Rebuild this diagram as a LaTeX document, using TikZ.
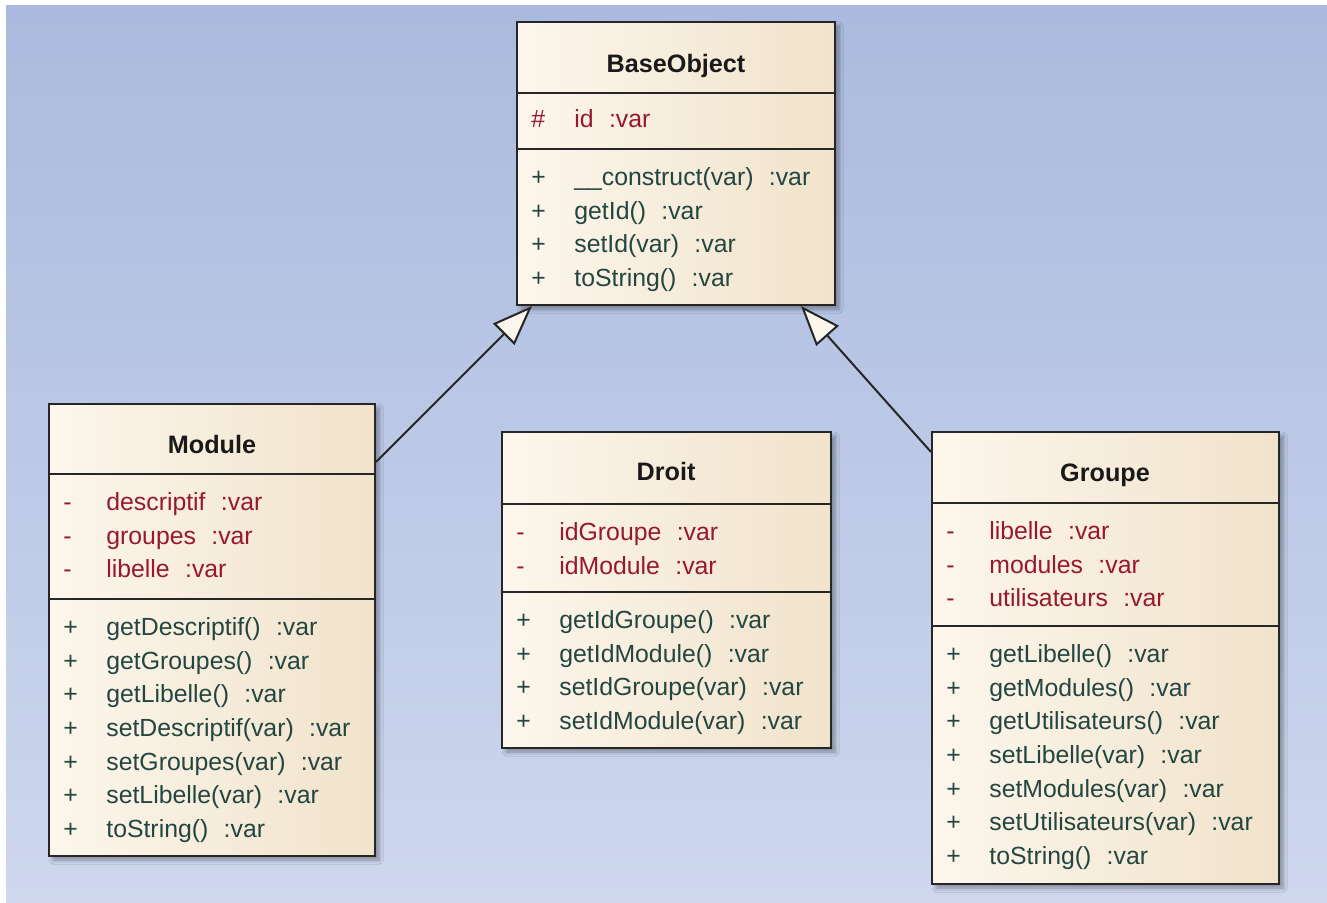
\documentclass[tikz,border=0pt]{standalone}
\usepackage{fontspec}
\setmainfont{Liberation Sans}
\usetikzlibrary{arrows.meta,fit,calc,shadows.blur}
\definecolor{bgtop}{RGB}{170,186,222}
\definecolor{bgbot}{RGB}{206,215,238}
\definecolor{boxlight}{RGB}{252,246,236}
\definecolor{boxdark}{RGB}{241,227,203}
\definecolor{attrred}{RGB}{150,25,45}
\definecolor{opgreen}{RGB}{35,70,65}
\newcommand{\vartype}{\hspace{.62em}:var}
\newcommand{\vis}[1]{\makebox[21.5pt][l]{#1}}
\tikzset{
  classbox/.style={draw=black!85,line width=1pt,inner sep=0pt,left color=boxlight,right color=boxdark,
    blur shadow={shadow xshift=2pt,shadow yshift=-2pt,shadow blur steps=6,shadow blur radius=2pt,shadow opacity=35}},
  sepline/.style={draw=black!85,line width=1pt},
  title/.style={anchor=base,font=\fontsize{12.6pt}{16pt}\selectfont\bfseries,text=black!90},
  attr/.style={anchor=base west,inner sep=0pt,font=\fontsize{12.4pt}{16pt}\selectfont,text=attrred},
  oper/.style={anchor=base west,inner sep=0pt,font=\fontsize{12.4pt}{16pt}\selectfont,text=opgreen},
  inherit/.style={draw=black!85,line width=1pt,-{Triangle[length=20pt,width=15pt,fill=boxlight]}}
}
\begin{document}
\begin{tikzpicture}[x=0.5pt,y=-0.5pt]
\useasboundingbox (0,0) rectangle (1327,903);
%% background
\fill[white] (0,0) rectangle (1327,903);
\shade[top color=bgtop,bottom color=bgbot] (6,6) rectangle (1327,903);
%% BaseObject
\node[classbox,fit={(517,22) (835,305)}] (base) {};
\draw[sepline] (base.west |- 0,93) -- (base.east |- 0,93);
\draw[sepline] (base.west |- 0,149) -- (base.east |- 0,149);
\node[title] (base-name) at (676,73) {BaseObject};
\node[attr] (base-a1) at (531,128) {\vis{\#}id\vartype};
\node[oper] (base-m1) at (531,186) {\vis{+}\_\_construct(var)\vartype};
\node[oper] (base-m2) at (531,220) {\vis{+}getId()\vartype};
\node[oper] (base-m3) at (531,253) {\vis{+}setId(var)\vartype};
\node[oper] (base-m4) at (531,287) {\vis{+}toString()\vartype};
%% Module
\node[classbox,fit={(49,404) (375,856)}] (module) {};
\draw[sepline] (module.west |- 0,474) -- (module.east |- 0,474);
\draw[sepline] (module.west |- 0,599) -- (module.east |- 0,599);
\node[title] (module-name) at (212,453) {Module};
\node[attr] (module-a1) at (63,510) {\vis{-}descriptif\vartype};
\node[attr] (module-a2) at (63,544) {\vis{-}groupes\vartype};
\node[attr] (module-a3) at (63,577) {\vis{-}libelle\vartype};
\node[oper] (module-m1) at (63,635) {\vis{+}getDescriptif()\vartype};
\node[oper] (module-m2) at (63,669) {\vis{+}getGroupes()\vartype};
\node[oper] (module-m3) at (63,702) {\vis{+}getLibelle()\vartype};
\node[oper] (module-m4) at (63,736) {\vis{+}setDescriptif(var)\vartype};
\node[oper] (module-m5) at (63,770) {\vis{+}setGroupes(var)\vartype};
\node[oper] (module-m6) at (63,803) {\vis{+}setLibelle(var)\vartype};
\node[oper] (module-m7) at (63,837) {\vis{+}toString()\vartype};
%% Droit
\node[classbox,fit={(502,432) (831,748)}] (droit) {};
\draw[sepline] (droit.west |- 0,504) -- (droit.east |- 0,504);
\draw[sepline] (droit.west |- 0,592) -- (droit.east |- 0,592);
\node[title] (droit-name) at (666,480) {Droit};
\node[attr] (droit-a1) at (516,540) {\vis{-}idGroupe\vartype};
\node[attr] (droit-a2) at (516,574) {\vis{-}idModule\vartype};
\node[oper] (droit-m1) at (516,628) {\vis{+}getIdGroupe()\vartype};
\node[oper] (droit-m2) at (516,662) {\vis{+}getIdModule()\vartype};
\node[oper] (droit-m3) at (516,695) {\vis{+}setIdGroupe(var)\vartype};
\node[oper] (droit-m4) at (516,729) {\vis{+}setIdModule(var)\vartype};
%% Groupe
\node[classbox,fit={(932,432) (1279,884)}] (groupe) {};
\draw[sepline] (groupe.west |- 0,503) -- (groupe.east |- 0,503);
\draw[sepline] (groupe.west |- 0,626) -- (groupe.east |- 0,626);
\node[title] (groupe-name) at (1105,481) {Groupe};
\node[attr] (groupe-a1) at (946,539) {\vis{-}libelle\vartype};
\node[attr] (groupe-a2) at (946,573) {\vis{-}modules\vartype};
\node[attr] (groupe-a3) at (946,606) {\vis{-}utilisateurs\vartype};
\node[oper] (groupe-m1) at (946,662) {\vis{+}getLibelle()\vartype};
\node[oper] (groupe-m2) at (946,696) {\vis{+}getModules()\vartype};
\node[oper] (groupe-m3) at (946,729) {\vis{+}getUtilisateurs()\vartype};
\node[oper] (groupe-m4) at (946,763) {\vis{+}setLibelle(var)\vartype};
\node[oper] (groupe-m5) at (946,797) {\vis{+}setModules(var)\vartype};
\node[oper] (groupe-m6) at (946,830) {\vis{+}setUtilisateurs(var)\vartype};
\node[oper] (groupe-m7) at (946,864) {\vis{+}toString()\vartype};
%% the two generalisations
\coordinate (module-out) at ($(module.north east)+(0,59)$);
\coordinate (groupe-out) at ($(groupe.north west)+(0,21)$);
\coordinate (base-left) at ($(base.south west)+(16,0)$);
\coordinate (base-right) at ($(base.south east)+(-35,0)$);
\draw[inherit] (module-out) -- (base-left);
\draw[inherit] (groupe-out) -- (base-right);
\end{tikzpicture}
\end{document}
